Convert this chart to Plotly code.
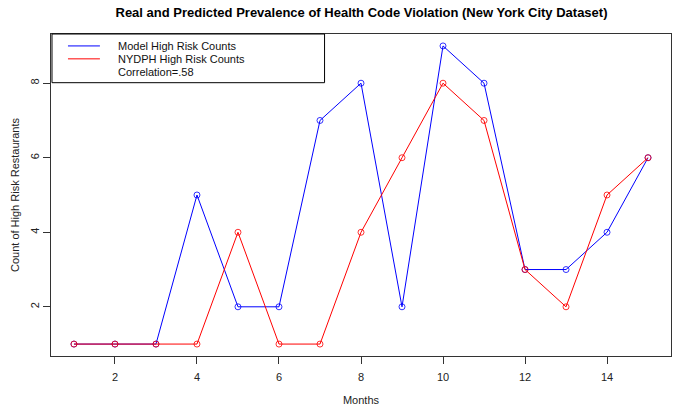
import plotly.graph_objects as go

months = list(range(1, 16))
model_counts = [1, 1, 1, 5, 2, 2, 7, 8, 2, 9, 8, 3, 3, 4, 6]
nydph_counts = [1, 1, 1, 1, 4, 1, 1, 4, 6, 8, 7, 3, 2, 5, 6]
x_ticks = [2, 4, 6, 8, 10, 12, 14]
y_ticks = [2, 4, 6, 8]
legend_labels = ["Model High Risk Counts", "NYDPH High Risk Counts", "Correlation=.58"]
blue = "#0000FF"
red = "#FF0000"

W, H = 678, 411
L, R, T, B = 51, 6, 34, 53
pw, ph = W - L - R, H - T - B

fig = go.Figure()
fig.add_trace(go.Scatter(x=months, y=model_counts, mode="lines+markers",
                         line=dict(color=blue, width=1),
                         marker=dict(symbol="circle-open", size=6, color=blue, line=dict(width=0.8)),
                         showlegend=False))
fig.add_trace(go.Scatter(x=months, y=nydph_counts, mode="lines+markers",
                         line=dict(color=red, width=1),
                         marker=dict(symbol="circle-open", size=6, color=red, line=dict(width=0.8)),
                         showlegend=False))

def px(xp):
    return (xp - L) / pw

def py(yp):
    return 1 - (yp - T) / ph

shapes = [
    dict(type="rect", xref="paper", yref="paper", x0=px(52), x1=px(325), y0=py(34), y1=py(83),
         line=dict(color="black", width=1), fillcolor="white", layer="above"),
    dict(type="line", xref="paper", yref="paper", x0=px(68), x1=px(100), y0=py(46), y1=py(46),
         line=dict(color=blue, width=1)),
    dict(type="line", xref="paper", yref="paper", x0=px(68), x1=px(100), y0=py(59), y1=py(59),
         line=dict(color=red, width=1)),
]
annotations = []
for i, txt in enumerate(legend_labels):
    annotations.append(dict(xref="paper", yref="paper", x=px(116), y=py(46 + 13 * i),
                            text=txt, showarrow=False, xanchor="left", yanchor="middle",
                            font=dict(size=11, color="#111")))

fig.update_layout(
    width=W, height=H,
    margin=dict(l=L, r=R, t=T, b=B),
    paper_bgcolor="white", plot_bgcolor="white",
    font=dict(family="Liberation Sans, Arial, sans-serif", size=11, color="#222"),
    title=dict(text="<b>Real and Predicted Prevalence of Health Code Violation (New York City Dataset)</b>",
               x=(L + pw / 2) / W, xanchor="center", y=1 - 12 / H, yanchor="middle",
               font=dict(size=13, color="black")),
    xaxis=dict(range=[0.44, 15.56], tickvals=x_ticks, ticks="outside", ticklen=7,
               tickcolor="#333", showline=True, linecolor="#333", linewidth=1, mirror=True,
               showgrid=False, zeroline=False, ticklabelstandoff=4,
               title=dict(text="Months", standoff=14, font=dict(size=11))),
    yaxis=dict(range=[0.68, 9.32], tickvals=y_ticks, ticks="outside", ticklen=7,
               tickcolor="#333", showline=True, linecolor="#333", linewidth=1, mirror=True,
               showgrid=False, zeroline=False, tickangle=-90,
               title=dict(text="Count of High Risk Restaurants", standoff=6, font=dict(size=11))),
    shapes=shapes, annotations=annotations,
)
fig.write_html("out.html", config={"displayModeBar": False},
               post_script="document.body.style.margin='0';document.body.style.overflow='hidden';")
